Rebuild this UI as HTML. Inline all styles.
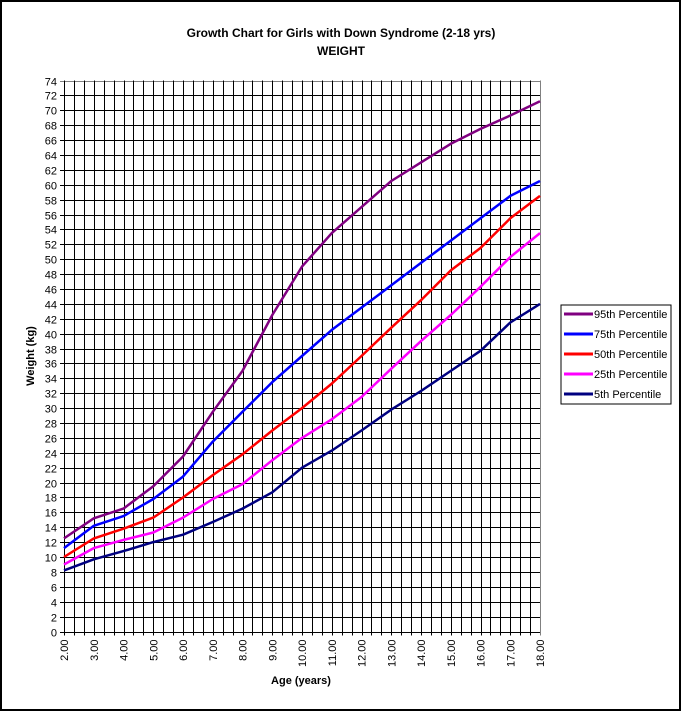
<!DOCTYPE html>
<html><head><meta charset="utf-8"><style>
html,body{margin:0;padding:0;background:#fff;}
svg{display:block;font-family:"Liberation Sans",Arial,sans-serif;}
</style></head><body>
<svg width="681" height="711" viewBox="0 0 681 711">
<rect x="1" y="1" width="679" height="709" fill="#fff" stroke="#000" stroke-width="2"/>
<text x="341" y="37" text-anchor="middle" font-size="12" font-weight="bold">Growth Chart for Girls with Down Syndrome (2-18 yrs)</text>
<text x="341" y="55" text-anchor="middle" font-size="12" font-weight="bold">WEIGHT</text>
<text transform="translate(34,356) rotate(-90)" text-anchor="middle" font-size="11" font-weight="bold">Weight (kg)</text>
<text x="301" y="684" text-anchor="middle" font-size="11" font-weight="bold">Age (years)</text>
<g id="grid"></g>
<g id="series"></g>
<g>
<rect x="561" y="305" width="110" height="99" fill="#fff" stroke="#000"/>
<g id="legend"></g>
</g>
</svg>
<script>
const ages=[2,3,4,5,6,7,8,9,10,11,12,13,14,15,16,17,18];
const seriesNames=["95th Percentile","75th Percentile","50th Percentile","25th Percentile","5th Percentile"];
const seriesColors=["#800080","#0000ff","#ff0000","#ff00ff","#000080"];
const p95=[12.5,15.2,16.5,19.5,23.5,29.5,35,42.5,49,53.5,57,60.5,63,65.5,67.5,69.3,71.2];
const p75=[11.2,14.2,15.5,17.8,20.8,25.5,29.5,33.5,37,40.5,43.5,46.5,49.5,52.5,55.5,58.5,60.5];
const p50=[10,12.5,13.8,15.3,18,21,23.8,27,30,33.3,37,40.8,44.5,48.5,51.5,55.5,58.5];
const p25=[9,11.2,12.3,13.3,15.3,17.8,19.8,23,26,28.5,31.5,35.3,39,42.5,46.3,50.3,53.5];
const p5=[8.2,9.7,10.8,12,13,14.7,16.5,18.7,22,24.3,27,29.8,32.3,35,37.7,41.5,44];
const xTickLabels=["2.00","3.00","4.00","5.00","6.00","7.00","8.00","9.00","10.00","11.00","12.00","13.00","14.00","15.00","16.00","17.00","18.00"];
const yMax=74;
const NS="http://www.w3.org/2000/svg";
const L=64,R=540,T=80.5,B=631.5;
const xs=a=>L+(a-2)/16*(R-L);
const ys=v=>B-v/yMax*(B-T);
const grid=document.getElementById('grid');
function mk(tag,at,parent){const e=document.createElementNS(NS,tag);for(const k in at)e.setAttribute(k,at[k]);parent.appendChild(e);return e;}
for(let v=0;v<=yMax;v+=2){
 const y=Math.round(ys(v))+0.5;
 const ln=mk('line',{x1:L-4,x2:R,y1:y,y2:y,stroke:v===yMax?'#808080':'#000','stroke-width':1},grid);
 
 
 const t=mk('text',{x:L-7,y:y+4,'text-anchor':'end','font-size':11},grid);
 t.textContent=v;
 
 
}
for(let i=0;i<=48;i++){
 const a=2+i/3;const x=Math.round(xs(a))+0.5;
 const ln=mk('line',{x1:x,x2:x,y1:T,y2:B+4,stroke:i===48?'#808080':'#000','stroke-width':1},grid);
 
 
}
xTickLabels.forEach((lab,i)=>{
 const x=xs(ages[i])+4;
 const t=mk('text',{transform:`translate(${x},${B+8}) rotate(-90)`,'text-anchor':'end','font-size':11},grid);
 t.textContent=lab;
 
 
});
const data=[p95,p75,p50,p25,p5];
const sg=document.getElementById('series');
data.forEach((arr,k)=>{
 const pts=arr.map((v,i)=>xs(ages[i]).toFixed(1)+','+ys(v).toFixed(1)).join(' ');
 const pl=mk('polyline',{points:pts,fill:'none',stroke:seriesColors[k],'stroke-width':2.5,'stroke-linejoin':'round'},sg);
 
 
});
const lg=document.getElementById('legend');
seriesNames.forEach((n,k)=>{
 const y=314+k*20;
 const ln=mk('line',{x1:564,x2:593,y1:y,y2:y,stroke:seriesColors[k],'stroke-width':3},lg);
 
 
 const t=mk('text',{x:594,y:y+4,'font-size':11},lg);
 t.textContent=n;
 
 
});
</script>
</body></html>
